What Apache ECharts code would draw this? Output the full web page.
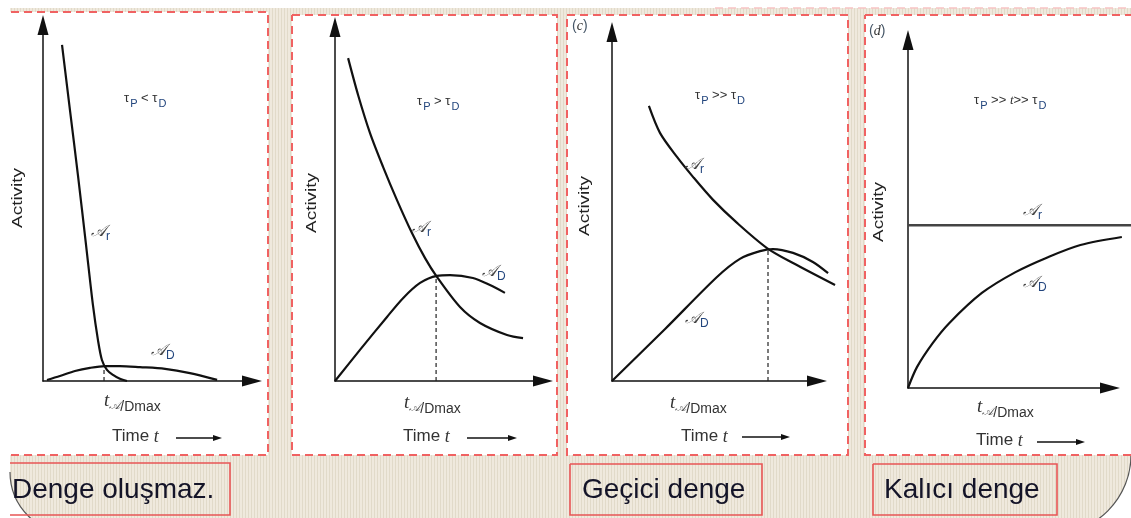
<!DOCTYPE html>
<html><head><meta charset="utf-8">
<script src="https://cdn.jsdelivr.net/npm/echarts@6/dist/echarts.min.js"></script>
<style>html,body{margin:0;padding:0;background:#fff}#c{width:1131px;height:518px}</style>
</head><body><div id="c"></div>
<script>
// ---------- data (time 0-100 = visible axis length, activity 0-100) ----------
const p1Parent   = [[9.1,94.4],[12.9,76.1],[16.7,57.9],[20.6,38.2],[23.9,21.3],[26.3,11.5],[28.2,5.9],[30.6,3.1],[33.5,1.7],[36.8,0.6],[40.2,0]];
const p1Daughter = [[1.9,0.3],[8.1,1.4],[15.3,2.8],[22.5,3.7],[29.7,4.2],[36.8,4.2],[46.4,3.9],[58.4,3.4],[70.3,2.2],[83.3,0.3]];
const p1Peak     = [29.2, 4.2];
const p2Parent   = [[6.3,91.2],[11.1,80.8],[16.8,70.1],[23.1,60.5],[29.8,51.1],[37.0,41.8],[43.3,34.7],[49.0,29.4],[60.1,20.9],[69.7,16.4],[82.7,13.0],[90.4,12.1]];
const p2Daughter = [[0,0],[12.0,8.8],[25.0,18.1],[32.7,23.4],[40.9,27.7],[49.0,29.7],[55.3,29.9],[66.3,29.1],[74.5,27.1],[81.7,24.9]];
const p2Peak     = [48.6, 29.7];
const p3Parent   = [[18.0,78.8],[23.4,71.1],[31.7,64.2],[39.5,58.5],[49.3,51.9],[61.0,45.3],[75.6,38.1],[88.3,33.8],[108.8,27.5]];
const p3Daughter = [[0,0],[25.9,14.9],[51.2,29.8],[62.4,35.0],[72.2,37.2],[78.5,37.8],[88.3,36.7],[98.0,34.1],[105.4,30.9]];
const p3Peak     = [76.1, 37.8];
const p4Parent   = [[0,46.8],[112,46.8]];
const p4Daughter = [[0,0],[4.5,6.0],[12.4,12.9],[20.8,18.7],[37.1,27.3],[54.0,33.3],[70.3,37.6],[86.6,41.1],[107.4,43.4]];
const timeExtent = [100, 100, 110, 112];   // data range per panel (curves run past the arrow in c and d)

const yTitle = 'Activity';
const timeWord = 'Time ';
const conditions = ['{m|τ}{s|P}{m| < τ}{s|D}', '{m|τ}{s|P}{m| > τ}{s|D}', '{m|τ}{s|P}{m| >> τ}{s|D}', '{m|τ}{s|P}{m| >> }{mi|t}{m|>> τ}{s|D}'];
const panelTags = ['', '', 'c', 'd'];
const captions = ['Denge oluşmaz.', 'Geçici denge', 'Kalıcı denge'];

// ---------- layout ----------
const frames = [
  {left:43,  top:25, width:209, height:356},
  {left:335, top:27, width:208, height:354},
  {left:612, top:32, width:205, height:349},
  {left:908, top:40, width:202, height:348}
];
const dataGrids = frames.map((g,i)=>({left:g.left, top:g.top, height:g.height, width:g.width*timeExtent[i]/100}));
const grids = dataGrids.concat(frames);
const axisLine = {show:true, symbol:['none','triangle'], symbolSize:[11,20], lineStyle:{color:'#111', width:1.5}};
const hidden = {axisLine:{show:false}, axisTick:{show:false}, axisLabel:{show:false}, splitLine:{show:false}};
const shown  = {axisLine, axisTick:{show:false}, axisLabel:{show:false}, splitLine:{show:false}};
const xAxes = dataGrids.map((g,i)=>Object.assign({type:'value', gridIndex:i, min:0, max:timeExtent[i]}, hidden))
  .concat(frames.map((g,i)=>Object.assign({type:'value', gridIndex:i+4, min:0, max:100}, shown)));
const yAxes = dataGrids.map((g,i)=>Object.assign({type:'value', gridIndex:i, min:0, max:100}, hidden))
  .concat(frames.map((g,i)=>Object.assign({type:'value', gridIndex:i+4, min:0, max:100}, shown)));

function curve(data, gi, extra){
  return Object.assign({type:'line', xAxisIndex:gi, yAxisIndex:gi, data, showSymbol:false, symbol:'none',
    smooth:0.3, clip:false, silent:true, z:3, lineStyle:{color:'#111', width:2.2}}, extra||{});
}
function marker(pk, gi){
  return {type:'line', xAxisIndex:gi, yAxisIndex:gi, data:[[pk[0],0],[pk[0],pk[1]]], showSymbol:false, symbol:'none',
    silent:true, z:2, lineStyle:{color:'#222', width:1.2, type:[4,3]}};
}
const series = [
  curve(p1Parent,0), curve(p1Daughter,0), marker(p1Peak,0),
  curve(p2Parent,1), curve(p2Daughter,1), marker(p2Peak,1),
  curve(p3Parent,2), curve(p3Daughter,2), marker(p3Peak,2),
  curve(p4Parent,3,{smooth:false, lineStyle:{color:'#444', width:2.5}}), curve(p4Daughter,3)
];

// ---------- decoration ----------
const pc = document.createElement('canvas'); pc.width = 3; pc.height = 2;
const pctx = pc.getContext('2d');
pctx.fillStyle = '#efe9dd'; pctx.fillRect(0,0,3,2);
pctx.fillStyle = '#e1dac9'; pctx.fillRect(2,0,1,2);

const F = 'Liberation Sans';
const SUB = '#22457d';
const R = {
  m:  {fontSize:13, fontFamily:F, fill:'#333', verticalAlign:'top', lineHeight:14},
  mi: {fontSize:13, fontFamily:'Liberation Serif', fontStyle:'italic', fill:'#333', verticalAlign:'top', lineHeight:14},
  s:  {fontSize:11, fontFamily:F, fill:SUB, verticalAlign:'top', lineHeight:12, padding:[6,0,0,1]},
  a:  {fontSize:16, fontFamily:'DejaVu Serif', fontStyle:'italic', fill:'#444', verticalAlign:'top', lineHeight:17},
  as: {fontSize:12, fontFamily:F, fill:SUB, verticalAlign:'top', lineHeight:12, padding:[7,0,0,0]},
  t:  {fontSize:19, fontFamily:'Liberation Serif', fontStyle:'italic', fill:'#333', verticalAlign:'top', lineHeight:20},
  ta: {fontSize:12, fontFamily:'DejaVu Serif', fontStyle:'italic', fill:'#555', verticalAlign:'top', lineHeight:14, padding:[9,0,0,0]},
  ts: {fontSize:14, fontFamily:F, fill:'#333', verticalAlign:'top', lineHeight:14, padding:[9,0,0,0]},
  T:  {fontSize:17, fontFamily:F, fill:'#333', verticalAlign:'top', lineHeight:18},
  Ti: {fontSize:18, fontFamily:'Liberation Serif', fontStyle:'italic', fill:'#333', verticalAlign:'top', lineHeight:18},
  p:  {fontSize:14, fontFamily:F, fill:'#456', verticalAlign:'top', lineHeight:16},
  pi: {fontSize:14, fontFamily:'Liberation Serif', fontStyle:'italic', fill:'#333', verticalAlign:'top', lineHeight:16}
};
function txt(x, y, text, extra){
  return Object.assign({type:'text', x, y, z:20, silent:true, style:{text, rich:R, align:'left', verticalAlign:'middle'}}, extra||{});
}
function vtxt(x, y){
  return {type:'text', x, y, rotation:Math.PI/2, scaleX:1.35, z:20, silent:true,
    style:{text:yTitle, fontSize:14, fontFamily:F, fill:'#222', align:'center', verticalAlign:'middle'}};
}
function arrow(x1, x2, y){
  return [
    {type:'line', z:20, silent:true, shape:{x1, y1:y, x2:x2-6, y2:y}, style:{stroke:'#111', lineWidth:1.3}},
    {type:'polygon', z:20, silent:true, shape:{points:[[x2,y],[x2-9,y-3],[x2-9,y+3]]}, style:{fill:'#111'}}
  ];
}
const DASH = {stroke:'#f06262', lineWidth:2, lineDash:[8,5], fill:null};
function panel(x, y, w, h, openLeft){
  const pts = openLeft ? [[x+11,y],[x+w,y],[x+w,y+h],[x+10,y+h]] : [[x,y],[x+w,y],[x+w,y+h],[x,y+h],[x,y]];
  return [
    {type:'rect', z:-5, silent:true, shape:{x, y, width:w, height:h}, style:{fill:'#fff'}},
    {type:'polyline', z:-4, silent:true, shape:{points:pts}, style:DASH}
  ];
}
function box(x, y, w, h, openLeft){
  const pts = openLeft ? [[x,y],[x+w,y],[x+w,y+h],[x,y+h]] : [[x,y],[x+w,y],[x+w,y+h],[x,y+h],[x,y]];
  return {type:'polyline', z:-4, silent:true, shape:{points:pts}, style:{stroke:'#e85656', lineWidth:1.6, fill:null}};
}
const A_r = '{a|𝒜}{as|r}', A_D = '{a|𝒜}{as|D}';
const tmax = '{t|t}{ta|𝒜}{ts|/Dmax}';
const timeLbl = '{T|' + timeWord + '}{Ti|t}';

const graphic = [
  {type:'rect', z:-10, silent:true, shape:{x:10, y:8, width:1121, height:520}, style:{fill:{image:pc, repeat:'repeat'}}},
  {type:'rect', z:-9, silent:true, shape:{x:1052, y:455, width:79, height:63}, style:{fill:'#fff'}},
  {type:'rect', z:-9, silent:true, shape:{x:10, y:472, width:62, height:46}, style:{fill:'#fff'}},
  {type:'sector', z:-8, silent:true, shape:{cx:1052, cy:455, r0:0, r:79, startAngle:0, endAngle:Math.PI/2}, style:{fill:{image:pc, repeat:'repeat'}}},
  {type:'sector', z:-8, silent:true, shape:{cx:72, cy:472, r0:0, r:62, startAngle:Math.PI/2, endAngle:Math.PI}, style:{fill:{image:pc, repeat:'repeat'}}},
  {type:'arc', z:-7, silent:true, shape:{cx:1052, cy:455, r:79, startAngle:0, endAngle:Math.PI/2}, style:{stroke:'#555', lineWidth:1.2, fill:null}},
  {type:'arc', z:-7, silent:true, shape:{cx:72, cy:472, r:62, startAngle:Math.PI/2, endAngle:Math.PI}, style:{stroke:'#555', lineWidth:1.2, fill:null}},
  {type:'polyline', z:-4, silent:true, shape:{points:[[715,8],[1131,8]]}, style:{stroke:'#f7c4c4', lineWidth:1.5, lineDash:[8,5]}},
  ...panel(0, 12, 268, 443, true),
  ...panel(292, 15, 265, 440),
  ...panel(567, 15, 281, 440),
  ...panel(865, 15, 290, 440),
  box(10, 463, 220, 52, true), box(570, 464, 192, 51), box(873, 464, 184, 51),
  {type:'text', x:12, y:490, z:20, silent:true, style:{text:captions[0], fontSize:28, fontFamily:F, fill:'#141428', verticalAlign:'middle'}},
  {type:'text', x:582, y:490, z:20, silent:true, style:{text:captions[1], fontSize:28, fontFamily:F, fill:'#141428', verticalAlign:'middle'}},
  {type:'text', x:884, y:490, z:20, silent:true, style:{text:captions[2], fontSize:28, fontFamily:F, fill:'#141428', verticalAlign:'middle'}},
  // panel 1
  vtxt(18, 198), txt(124, 99, conditions[0]), txt(91, 232, A_r), txt(151, 351, A_D), txt(104, 401, tmax), txt(112, 437, timeLbl), ...arrow(176, 222, 438),
  // panel 2
  vtxt(312, 203), txt(417, 102, conditions[1]), txt(412, 228, A_r), txt(482, 272, A_D), txt(404, 403, tmax), txt(403, 437, timeLbl), ...arrow(467, 517, 438),
  // panel 3
  vtxt(585, 206), txt(572, 27, '{p|(}{pi|' + panelTags[2] + '}{p|)}'), txt(695, 96, conditions[2]), txt(685, 165, A_r), txt(685, 319, A_D), txt(670, 403, tmax), txt(681, 437, timeLbl), ...arrow(742, 790, 437),
  // panel 4
  vtxt(879, 212), txt(869, 32, '{p|(}{pi|' + panelTags[3] + '}{p|)}'), txt(974, 101, conditions[3]), txt(1023, 211, A_r), txt(1023, 283, A_D), txt(977, 407, tmax), txt(976, 441, timeLbl), ...arrow(1037, 1085, 442)
];

const chart = echarts.init(document.getElementById('c'), null, {renderer:'canvas'});
chart.setOption({
  animation:false,
  backgroundColor:'#fff',
  grid: grids,
  xAxis: xAxes,
  yAxis: yAxes,
  series,
  graphic
});
</script></body></html>
